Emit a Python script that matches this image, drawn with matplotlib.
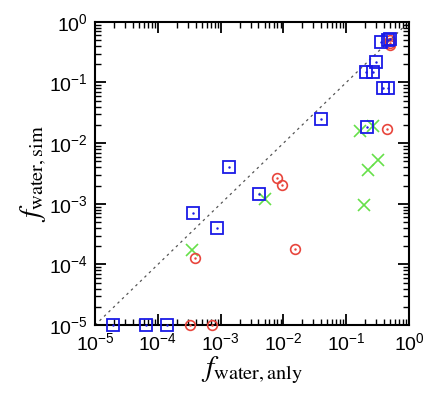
import matplotlib
matplotlib.use("Agg")
import matplotlib.pyplot as plt
import numpy as np

plt.rcParams['font.family'] = ['Liberation Sans', 'DejaVu Sans']
plt.rcParams['mathtext.fontset'] = 'stix'

# Blue squares
sq_x = [0.47, 0.49, 0.36, 0.295, 0.206, 0.264, 0.38, 0.457, 0.0393, 0.212,
        0.001377, 0.00408, 0.00036, 0.000885, 1.96e-5, 6.4e-5, 1.42e-4]
sq_y = [0.50, 0.52, 0.46, 0.216, 0.151, 0.151, 0.0805, 0.0805, 0.0248, 0.0187,
        0.00405, 0.001435, 0.000705, 0.000394, 1e-5, 1e-5, 1e-5]
# Red circles
ci_x = [0.50, 0.50, 0.49, 0.44, 0.0079, 0.0094, 0.0155, 0.00039, 0.00033, 0.00073]
ci_y = [0.50, 0.45, 0.42, 0.0171, 0.00263, 0.00202, 0.000182, 0.000129, 1e-5, 1e-5]
# Green crosses
cr_x = [0.166, 0.27, 0.225, 0.324, 0.0051, 0.192, 0.000347]
cr_y = [0.0159, 0.0192, 0.00361, 0.00522, 0.00121, 0.000944, 0.000173]

blue = '#1a1ae6'
red = '#e8453c'
green = '#66e04a'

fig = plt.figure(figsize=(4.36, 3.97), dpi=100)
ax = fig.add_axes([0.218, 0.181, 0.720, 0.764])
ax.set_xscale('log')
ax.set_yscale('log')
ax.set_xlim(1e-5, 1)
ax.set_ylim(1e-5, 1)

ax.plot([1e-5, 1], [1e-5, 1], linestyle=(0, (2, 3)), color='#555555', lw=0.9, zorder=1)

ax.plot(cr_x, cr_y, 'x', color=green, ms=8, mew=1.2, clip_on=False, zorder=3)
ax.plot(ci_x, ci_y, 'o', mfc='none', mec=red, ms=7, mew=1.2, clip_on=False, zorder=3)
ax.plot(ci_x, ci_y, '.', color=red, ms=1.5, clip_on=False, zorder=3)
ax.plot(sq_x, sq_y, 's', mfc='none', mec=blue, ms=8, mew=1.3, clip_on=False, zorder=4)
ax.plot(sq_x, sq_y, '.', color=blue, ms=1.5, clip_on=False, zorder=4)

for s in ax.spines.values():
    s.set_linewidth(1.5)
ax.tick_params(which='both', direction='in', top=True, right=True, labelsize=14)
ax.tick_params(which='major', length=8, width=1.3, pad=5)
ax.tick_params(which='minor', length=4, width=1.0)
ax.xaxis.set_major_locator(matplotlib.ticker.LogLocator(base=10, numticks=10))
ax.yaxis.set_major_locator(matplotlib.ticker.LogLocator(base=10, numticks=10))
ax.xaxis.set_minor_locator(matplotlib.ticker.LogLocator(base=10, subs=np.arange(2, 10), numticks=20))
ax.yaxis.set_minor_locator(matplotlib.ticker.LogLocator(base=10, subs=np.arange(2, 10), numticks=20))

ax.set_xlabel(r'$f_{\rm water,anly}$', fontsize=21, labelpad=0)
ax.set_ylabel(r'$f_{\rm water,sim}$', fontsize=21, labelpad=0)

fig.savefig('out.png', dpi=100)
